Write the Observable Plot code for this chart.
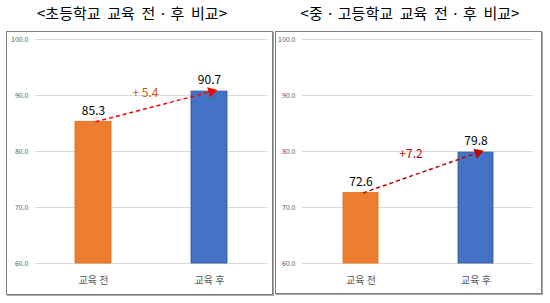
<!DOCTYPE html>
<html>
<head>
<meta charset="utf-8">
<script src="https://cdn.jsdelivr.net/npm/d3@7"></script>
<script src="https://cdn.jsdelivr.net/npm/@observablehq/plot@0.6"></script>
<style>
  html, body { margin: 0; padding: 0; background: #fff; }
  #page { position: relative; width: 550px; height: 303px; overflow: hidden; font-family: "Noto Sans CJK KR", sans-serif; }
  .title { position: absolute; top: 3px; font-size: 15px; color: #000; white-space: pre; transform: translateX(-50%); line-height: 20px; }
  .box { position: absolute; border: 1px solid #7f7f7f; box-sizing: border-box; box-shadow: 1px 1px 0 #a6a6a6; }
  .panel { position: absolute; }
</style>
</head>
<body>
<div id="page"></div>
<script>
const categories = ["교육 전", "교육 후"];
const elementaryValues = [85.3, 90.7];
const secondaryValues = [72.6, 79.8];
const panelTitles = ["<초등학교  교육  전 · 후  비교>", "<중 · 고등학교  교육  전 · 후  비교>"];
const deltaLabels = ["+ 5.4", "+7.2"];
const yTicks = [60, 70, 80, 90, 100];
const barColors = ["#ED7D31", "#4472C4"];

const page = document.getElementById("page");

function addTitle(text, cx) {
  const t = document.createElement("div");
  t.className = "title";
  t.style.left = cx + "px";
  t.textContent = text;
  page.appendChild(t);
}

function addBox(left, top, w, h) {
  const b = document.createElement("div");
  b.className = "box";
  Object.assign(b.style, {left: left + "px", top: top + "px", width: w + "px", height: h + "px"});
  page.appendChild(b);
}

function makePanel({values, delta, deltaColor, arrowColor, left, mL, mR, deltaDx}) {
  const width = 266, height = 262, mT = 8, mB = 30;
  const data = categories.map((c, i) => ({cat: c, value: values[i], color: barColors[i]}));
  const arrowData = [{from: categories[0], to: categories[1], before: values[0], after: values[1], label: delta}];
  const innerW = width - mL - mR, innerH = height - mT - mB;
  const angle = Math.atan2(innerW / categories.length,
    (values[1] - values[0]) * innerH / (yTicks[yTicks.length - 1] - yTicks[0])) * 180 / Math.PI;
  const svg = Plot.plot({
    width, height, marginLeft: mL, marginRight: mR, marginTop: mT, marginBottom: mB,
    style: {fontFamily: "'Noto Sans CJK KR', sans-serif", background: "transparent", color: "#595959"},
    x: {domain: categories, padding: 0, axis: null},
    y: {domain: [yTicks[0], yTicks[yTicks.length - 1]], axis: null},
    color: {type: "identity"},
    marks: [
      Plot.ruleY(yTicks, {stroke: "#d9d9d9", strokeWidth: 1.2}),
      Plot.axisY({ticks: yTicks, tickFormat: d3.format(".1f"), tickSize: 0, tickPadding: 7, fontSize: 7, label: null, color: "#595959"}),
      Plot.axisX({tickSize: 0, tickPadding: 13, fontSize: 10, label: null, color: "#595959"}),
      Plot.barY(data, {x: "cat", y1: yTicks[0], y2: "value", fill: "color", insetLeft: 40, insetRight: 40,
        stroke: (d, i) => i === 1 ? "#2F5597" : "#E46C0A", strokeWidth: 0.8}),
      Plot.text(data, {x: "cat", y: "value", text: d => d.value.toFixed(1), dy: -11, fontSize: 12, fill: "#000"}),
      Plot.link(arrowData, {x1: "from", y1: "before", x2: "to", y2: "after", dx: 2, stroke: arrowColor, strokeWidth: 1.5, strokeDasharray: "4,3"}),
      Plot.dot(arrowData, {x: "to", y: "after", dx: 2, symbol: "triangle2", r: 5, fill: arrowColor, stroke: "none", rotate: angle}),
      Plot.text(arrowData, {x: "from", y: "after", text: "label", dx: deltaDx, dy: 2, fill: deltaColor, fontSize: 12})
    ]
  });
  const wrap = document.createElement("div");
  wrap.className = "panel";
  wrap.style.left = left + "px";
  wrap.style.top = "31px";
  wrap.appendChild(svg);
  page.appendChild(wrap);
}

addTitle(panelTitles[0], 132);
addTitle(panelTitles[1], 410);
addBox(6, 31, 267, 264);
addBox(275, 31, 267, 263);

makePanel({values: elementaryValues, delta: deltaLabels[0], deltaColor: "#C55A11", arrowColor: "#FF0000", left: 6, mL: 29, mR: 5, deltaDx: 52});
makePanel({values: secondaryValues, delta: deltaLabels[1], deltaColor: "#C00000", arrowColor: "#C00000", left: 275, mL: 27, mR: 8, deltaDx: 50});
</script>
</body>
</html>
